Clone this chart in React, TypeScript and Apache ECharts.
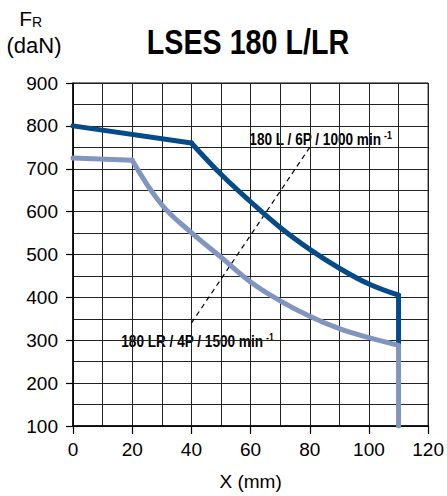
import React, { useEffect, useRef } from "react";
import * as echarts from "echarts";

const FONT = "'Liberation Sans', Arial, Helvetica, sans-serif";

const xTicks = [0, 20, 40, 60, 80, 100, 120];
const yTicks = [100, 200, 300, 400, 500, 600, 700, 800, 900];

// 180 L / 6P / 1000 min-1 (dark)
const darkFlatX = [0, 40];
const darkFlatY = [800, 760];
const darkCurveX = [40, 50, 60, 70, 80, 90, 100, 110];
const darkCurveY = [760, 687, 623, 563, 512, 468, 431, 405];
const darkDropX = [110, 110];
const darkDropY = [405, 288];

// 180 LR / 4P / 1500 min-1 (light)
const lightFlatX = [0, 20];
const lightFlatY = [725, 720];
const lightCurveX = [20, 30, 40, 50, 60, 70, 80, 90, 100, 110];
const lightCurveY = [720, 616, 551, 494, 436, 392, 356, 327, 306, 288];
const lightDropX = [110, 110];
const lightDropY = [288, 100];

// dashed leader line
const leaderX = [40, 80];
const leaderY = [340, 750];

const DARK = "#054a89";
const LIGHT = "#8095c0";

const zip = (xs: number[], ys: number[]) => xs.map((x, i) => [x, ys[i]]);

export default function App() {
  const ref = useRef<HTMLDivElement>(null);
  useEffect(() => {
    if (!ref.current) return;
    const chart = echarts.init(ref.current, null, { renderer: "svg" });
    const lineSeries = (data: number[][], color: string, smooth: boolean) => ({
      type: "line",
      data,
      smooth: smooth ? 0.4 : false,
      symbol: "none",
      silent: true,
      z: 3,
      lineStyle: { color, width: 5, cap: "round", join: "round" },
    });
    const narrow = 0.8;
    chart.setOption({
      animation: false,
      backgroundColor: "#fff",
      grid: {
        left: 73,
        right: 13,
        top: 83,
        bottom: 67,
        show: true,
        borderColor: "#000",
        borderWidth: 1,
      },
      xAxis: {
        type: "value",
        min: xTicks[0],
        max: xTicks[xTicks.length - 1],
        interval: 20,
        name: "X (mm)",
        nameLocation: "middle",
        nameGap: 46,
        nameTextStyle: { fontFamily: FONT, fontSize: 19, color: "#000" },
        axisLine: { show: true, lineStyle: { color: "#000", width: 1.5 } },
        axisTick: { show: true, length: 8, lineStyle: { color: "#000", width: 1.2 } },
        axisLabel: { fontFamily: FONT, fontSize: 19, color: "#000", margin: 14 },
        splitLine: { show: true, lineStyle: { color: "#222", width: 1 } },
        minorTick: { show: false, splitNumber: 2 },
        minorSplitLine: { show: true, lineStyle: { color: "#222", width: 1 } },
      },
      yAxis: {
        type: "value",
        min: yTicks[0],
        max: yTicks[yTicks.length - 1],
        interval: 100,
        axisLine: { show: true, lineStyle: { color: "#000", width: 1.5 } },
        axisTick: { show: true, length: 7, lineStyle: { color: "#000", width: 1.2 } },
        axisLabel: { fontFamily: FONT, fontSize: 19, color: "#000", margin: 15 },
        splitLine: { show: true, lineStyle: { color: "#222", width: 1 } },
        minorTick: { show: false, splitNumber: 2 },
        minorSplitLine: { show: true, lineStyle: { color: "#222", width: 1 } },
      },
      series: [
        {
          type: "line",
          data: zip(leaderX, leaderY),
          symbol: "none",
          silent: true,
          z: 2,
          lineStyle: { color: "#000", width: 1.2, type: [5, 4] },
        },
        lineSeries(zip(darkFlatX, darkFlatY), DARK, false),
        lineSeries(zip(darkCurveX, darkCurveY), DARK, true),
        lineSeries(zip(darkDropX, darkDropY), DARK, false),
        lineSeries(zip(lightFlatX, lightFlatY), LIGHT, false),
        lineSeries(zip(lightCurveX, lightCurveY), LIGHT, true),
        lineSeries(zip(lightDropX, lightDropY), LIGHT, false),
      ],
      graphic: [
        {
          type: "text",
          x: 248,
          y: 42,
          scaleX: 0.82,
          style: {
            text: "LSES 180 L/LR",
            fontFamily: FONT,
            fontWeight: "bold",
            fontSize: 35,
            fill: "#000",
            align: "center",
            verticalAlign: "middle",
          },
        },
        {
          type: "text",
          x: 32,
          y: 29,
          style: { text: "F", fontFamily: FONT, fontSize: 21, fill: "#000", align: "right", verticalAlign: "bottom" },
        },
        {
          type: "text",
          x: 32,
          y: 29,
          style: { text: "R", fontFamily: FONT, fontSize: 14, fill: "#000", align: "left", verticalAlign: "bottom" },
        },
        {
          type: "text",
          x: 34,
          y: 45,
          style: { text: "(daN)", fontFamily: FONT, fontSize: 22, fill: "#000", align: "center", verticalAlign: "middle" },
        },
        {
          type: "group",
          z: 10,
          children: [
            { type: "rect", shape: { x: 246, y: 128, width: 151, height: 21 }, style: { fill: "#fff" } },
            {
              type: "text",
              x: 381,
              y: 139,
              scaleX: narrow,
              style: { text: "180 L / 6P / 1000 min", fontFamily: FONT, fontWeight: "bold", fontSize: 17, fill: "#000", align: "right", verticalAlign: "middle" },
            },
            {
              type: "text",
              x: 384,
              y: 135,
              scaleX: narrow,
              style: { text: "-1", fontFamily: FONT, fontWeight: "bold", fontSize: 11, fill: "#000", align: "left", verticalAlign: "middle" },
            },
          ],
        },
        {
          type: "group",
          z: 10,
          children: [
            { type: "rect", shape: { x: 112, y: 330, width: 166, height: 22 }, style: { fill: "#fff" } },
            {
              type: "text",
              x: 263,
              y: 341,
              scaleX: narrow,
              style: { text: "180 LR / 4P / 1500 min", fontFamily: FONT, fontWeight: "bold", fontSize: 17, fill: "#000", align: "right", verticalAlign: "middle" },
            },
            {
              type: "text",
              x: 266,
              y: 337,
              scaleX: narrow,
              style: { text: "-1", fontFamily: FONT, fontWeight: "bold", fontSize: 11, fill: "#000", align: "left", verticalAlign: "middle" },
            },
          ],
        },
      ],
    });
    return () => chart.dispose();
  }, []);
  return (
    <div
      ref={ref}
      style={{ position: "absolute", left: 0, top: 0, width: 447, height: 496 }}
    />
  );
}
